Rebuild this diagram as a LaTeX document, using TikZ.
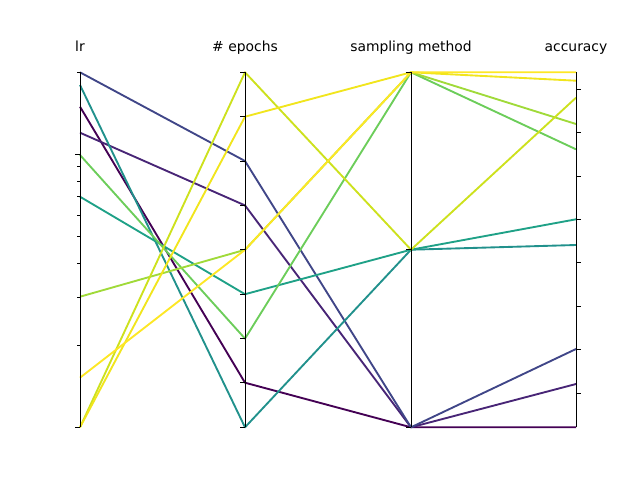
\documentclass[tikz,border=0pt]{standalone}
\usepackage{fontspec}
\setmainfont{DejaVu Sans}
\definecolor{v0}{HTML}{440154}
\definecolor{v1}{HTML}{482576}
\definecolor{v2}{HTML}{404688}
\definecolor{v3}{HTML}{21918C}
\definecolor{v4}{HTML}{1FA187}
\definecolor{v5}{HTML}{6CCD5A}
\definecolor{v6}{HTML}{A0DA39}
\definecolor{v7}{HTML}{CDE11D}
\definecolor{v8}{HTML}{F1E51D}
\definecolor{v9}{HTML}{FDE725}
\tikzset{
  axisline/.style={line width=0.7pt, black},
  majtick/.style={line width=0.7pt, black},
  datline/.style={line width=1.35pt, line join=round},
  title/.style={font=\fontsize{10}{12}\selectfont, anchor=base, inner sep=0pt}
}
\begin{document}
\begin{tikzpicture}[x=0.72pt,y=-0.72pt]
\useasboundingbox (0,0) rectangle (640,480);
% axes
\def\yt{72.3}
\def\yb{427.3}
\foreach \n/\x in {a/80,b/245,c/411,d/576}{
  \coordinate (\n top) at (\x,\yt);
  \coordinate (\n bot) at (\x,\yb);
}
% data points: lr, epochs, sampling, accuracy
\def\pts{1/106.7/382.7/427.3/427.3/v0,
         2/132.7/205.4/427.3/384/v1,
         3/72.3/161/427.3/349/v2,
         4/85/427.3/249.7/245/v3,
         5/196.7/294.2/249.7/219.3/v4,
         6/155/338.6/72.3/149.3/v5,
         7/296.7/249.8/72.3/124/v6,
         8/427.3/72.3/249.7/97.7/v7,
         9/427.3/116.7/72.3/80.7/v8,
         10/377.7/249.8/72.3/72.3/v9}
\foreach \i/\ya/\yb/\yc/\yd/\c in \pts{
  \coordinate (p\i a) at (80,\ya);
  \coordinate (p\i b) at (245,\yb);
  \coordinate (p\i c) at (411,\yc);
  \coordinate (p\i d) at (576,\yd);
  \draw[datline, \c] (p\i a) -- (p\i b) -- (p\i c) -- (p\i d);
}
% axis lines
\foreach \n in {a,b,c,d}{
  \draw[axisline] (\n top) -- (\n bot);
}
% lr ticks (log scale, left)
\foreach \y in {154,427.3}{ \draw[majtick] (80,\y) -- ++(-4.9,0); }
\foreach \y in {72.3,166.7,181.7,196.7,215,236,263.3,297.3,345.3}{ \draw[majtick] (80,\y) -- ++(-2.8,0); }
% epochs ticks (left)
\foreach \k in {0,...,8}{ \draw[majtick] (245,{72.3+44.375*\k}) -- ++(-4.9,0); }
% sampling ticks (left)
\foreach \y in {72.3,249.8,427.3}{ \draw[majtick] (411,\y) -- ++(-4.9,0); }
% accuracy ticks (right)
\foreach \k in {0,...,7}{ \draw[majtick] (576,{89.3+43.4*\k}) -- ++(4.9,0); }
% titles
\node[title] (t1) at (80,51) {lr};
\node[title] (t2) at (245,51) {\# epochs};
\node[title] (t3) at (411,51) {sampling method};
\node[title] (t4) at (576,51) {accuracy};
\end{tikzpicture}
\end{document}
